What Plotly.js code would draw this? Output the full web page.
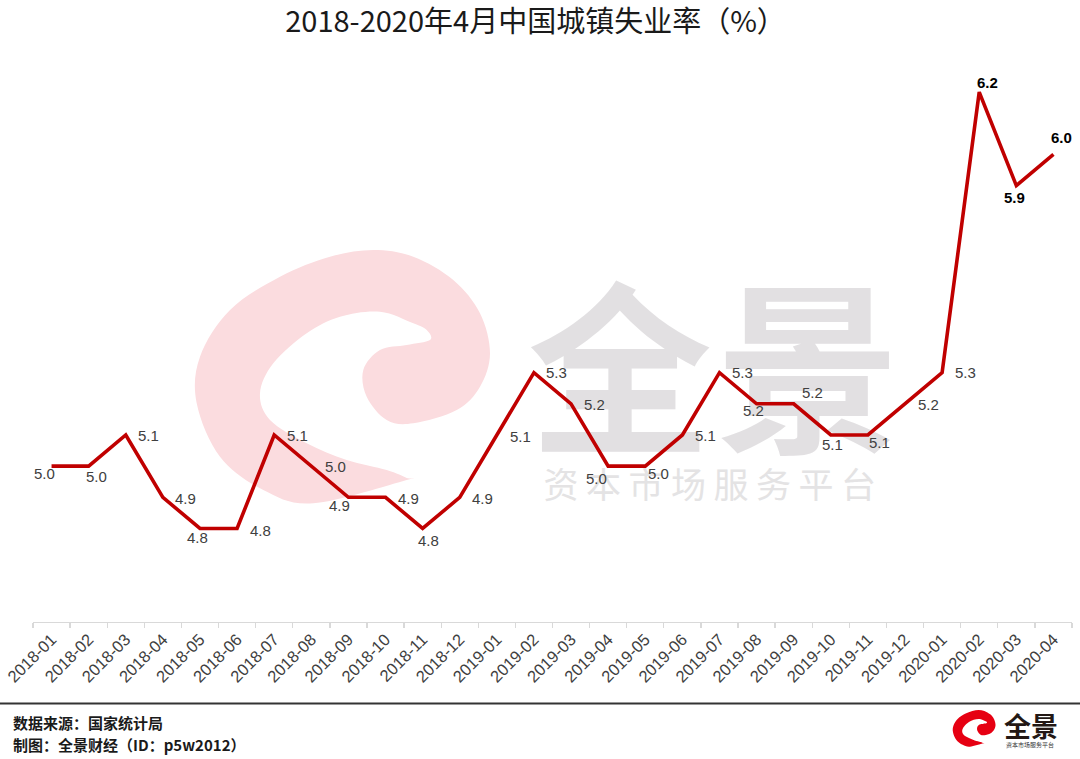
<!DOCTYPE html>
<html>
<head>
<meta charset="utf-8">
<script src="https://cdn.plot.ly/plotly-3.0.1.min.js"></script>
<style>html,body{margin:0;padding:0;background:#fff;}#chart{width:1080px;height:759px;}</style>
</head>
<body>
<div id="chart"></div>
<script>
// ---- data ----
const months = ['2018-01','2018-02','2018-03','2018-04','2018-05','2018-06','2018-07','2018-08','2018-09','2018-10','2018-11','2018-12',
                '2019-01','2019-02','2019-03','2019-04','2019-05','2019-06','2019-07','2019-08','2019-09','2019-10','2019-11','2019-12',
                '2020-01','2020-02','2020-03','2020-04'];
const rates = [5.0,5.0,5.1,4.9,4.8,4.8,5.1,5.0,4.9,4.9,4.8,4.9,
               5.1,5.3,5.2,5.0,5.0,5.1,5.3,5.2,5.2,5.1,5.1,5.2,
               5.3,6.2,5.9,6.0];
const titleText = '2018-2020年4月中国城镇失业率（%）';
const sourceText = '数据来源：国家统计局';
const makerText = '制图：全景财经（ID：p5w2012）';
const brandText = '全景';
const brandSub = '资本市场服务平台';

// ---- styling (label offsets in px: right, down) ----
const labelOffsets = [[-7,7],[8,10],[23,1],[23,1],[-2,9],[23,2],[23,1],[24,0],[-9,8],[23,1],[6,12],[23,1],
                      [24,2],[23,0],[23,1],[-12,12],[13,7],[23,1],[23,0],[-3,7],[19,-11],[2,10],[12,8],[23,1],
                      [23,0],[8,-10],[-2,12],[8,-17]];
const boldFrom = 25;

// plot area in pixels
const L = 33, R = 1072, T = 60, B = 622;
const W = 1080, H = 759;
const PX = x => (x - L) / (R - L);
const PY = y => (B - y) / (B - T);

// swirl outline (pixel coords of watermark)
const swirl = [[406.7,480],[313.3,503.3],[263.3,490],[220,456.7],[196.7,403.3],[200,356.7],[230,310],[280,276.7],
  [330,256.7],[373.3,250],[413.3,256.7],[453.3,280],[480,313.3],[490,353.3],[480,386.7],[456.7,410],[413.3,423.3],
  [386.7,420],[366.7,396.7],[363.3,370],[380,350],[406.7,345],[430,340],[426.7,330],[413.3,323.3],[380,311.7],
  [340,316.7],[306.7,333.3],[273.3,363.3],[260,393.3],[270,420],[306.7,443.3],[346.7,460],[386.7,470],[406.7,478]];

function smoothPath(pts) {
  const n = pts.length;
  const P = i => pts[(i + n) % n];
  const f = p => PX(p[0]).toFixed(5) + ',' + PY(p[1]).toFixed(5);
  let d = 'M' + f(P(0));
  for (let i = 0; i < n; i++) {
    const p0 = P(i-1), p1 = P(i), p2 = P(i+1), p3 = P(i+2);
    const c1 = [p1[0] + (p2[0]-p0[0])/6, p1[1] + (p2[1]-p0[1])/6];
    const c2 = [p2[0] - (p3[0]-p1[0])/6, p2[1] - (p3[1]-p1[1])/6];
    d += ' C' + f(c1) + ' ' + f(c2) + ' ' + f(p2);
  }
  return d + ' Z';
}
const smallSwirl = swirl.map(p => [953 + (p[0]-196.7)*0.145, 710 + (p[1]-250)*0.145]);

// watermark text (decoration, pixel positions on hidden axes)
const wmBig = {x:[620, 808], y:[393, 393], t:['全','景']};
const wmSmallChars = brandSub.split('');
const wmSmall = {x: wmSmallChars.map((c,i)=>561 + i*42.5), y: wmSmallChars.map(()=>489)};

const traces = [
  {type:'scatter', mode:'text', x:wmBig.x, y:wmBig.y, text:wmBig.t, xaxis:'x', yaxis:'y',
   textfont:{family:'Noto Sans CJK SC', size:184, color:'#e2e0e2', weight:700}, hoverinfo:'skip', showlegend:false, cliponaxis:false},
  {type:'scatter', mode:'text', x:wmSmall.x, y:wmSmall.y, text:wmSmallChars, xaxis:'x', yaxis:'y',
   textfont:{family:'Noto Sans CJK SC', size:35, color:'#e4e3e4'}, hoverinfo:'skip', showlegend:false, cliponaxis:false},
  {type:'scatter', mode:'lines', x:months, y:rates, xaxis:'x2', yaxis:'y2',
   line:{color:'#c00000', width:3.6}, hoverinfo:'skip', showlegend:false, cliponaxis:false}
];

const annotations = rates.map((v,i) => ({
  xref:'x2', yref:'y2', x:months[i], y:v, text: i >= boldFrom ? '<b>'+v.toFixed(1)+'</b>' : v.toFixed(1),
  showarrow:false, xanchor:'center', yanchor:'middle',
  xshift: labelOffsets[i][0], yshift: -labelOffsets[i][1],
  font:{family:'Liberation Sans, Arial, sans-serif', size:15, color: i >= boldFrom ? '#000000' : '#404040'}
}));
annotations.push(
  {xref:'paper', yref:'paper', x:PX(11), y:PY(722), text:'<b>'+sourceText+'</b>', showarrow:false, xanchor:'left', yanchor:'middle',
   font:{family:'Noto Sans CJK SC', size:15, color:'#1a1a1a'}},
  {xref:'paper', yref:'paper', x:PX(11), y:PY(744), text:'<b>'+makerText+'</b>', showarrow:false, xanchor:'left', yanchor:'middle',
   font:{family:'Noto Sans CJK SC', size:15, color:'#1a1a1a'}},
  {xref:'paper', yref:'paper', x:PX(1031), y:PY(725), text:'<b>'+brandText+'</b>', showarrow:false, xanchor:'center', yanchor:'middle',
   font:{family:'Noto Sans CJK SC', size:27, color:'#231815'}},
  {xref:'paper', yref:'paper', x:PX(1030), y:PY(744.5), text:brandSub, showarrow:false, xanchor:'center', yanchor:'middle',
   font:{family:'Noto Sans CJK SC', size:6, color:'#333333'}}
);

const shapes = [
  {type:'path', xref:'paper', yref:'paper', path:smoothPath(swirl), fillcolor:'#fbdcdf', line:{width:0}, layer:'below'},
  {type:'path', xref:'paper', yref:'paper', path:smoothPath(smallSwirl), fillcolor:'#e60012', line:{width:0}, layer:'above'},
  {type:'line', xref:'paper', yref:'paper', x0:PX(0), x1:PX(W), y0:PY(703.5), y1:PY(703.5), line:{color:'#333333', width:2.2}, layer:'above'}
];

const yTop = 4.5 + (B - T) / 311.7;

const layout = {
  width:W, height:H,
  margin:{l:L, r:W-R, t:T, b:H-B, pad:0},
  paper_bgcolor:'#ffffff', plot_bgcolor:'#ffffff',
  title:{text:titleText, x:0.4837, xanchor:'center', y:1-22/H, yanchor:'middle', xref:'paper',
         font:{family:'Noto Sans CJK SC', size:29, color:'#1a1a1a'}},
  xaxis:{range:[L, R], visible:false, fixedrange:true},
  yaxis:{range:[B, T], visible:false, fixedrange:true},
  xaxis2:{type:'category', overlaying:'x', anchor:'y2', side:'bottom', categoryorder:'array', categoryarray:months,
          range:[-0.5, months.length-0.5],
          showline:true, linecolor:'#d9d9d9', linewidth:1.3, ticks:'outside', ticklen:5, tickcolor:'#d9d9d9', tickwidth:1.3,
          tickson:'boundaries', tickangle:-45, showgrid:false, zeroline:false,
          tickfont:{family:'Liberation Sans, Arial, sans-serif', size:16.5, color:'#404040'}},
  yaxis2:{overlaying:'y', range:[4.5, yTop], visible:false, showgrid:false, zeroline:false},
  showlegend:false,
  annotations:annotations,
  shapes:shapes
};

Plotly.newPlot('chart', traces, layout, {staticPlot:true, displayModeBar:false});
</script>
</body>
</html>
